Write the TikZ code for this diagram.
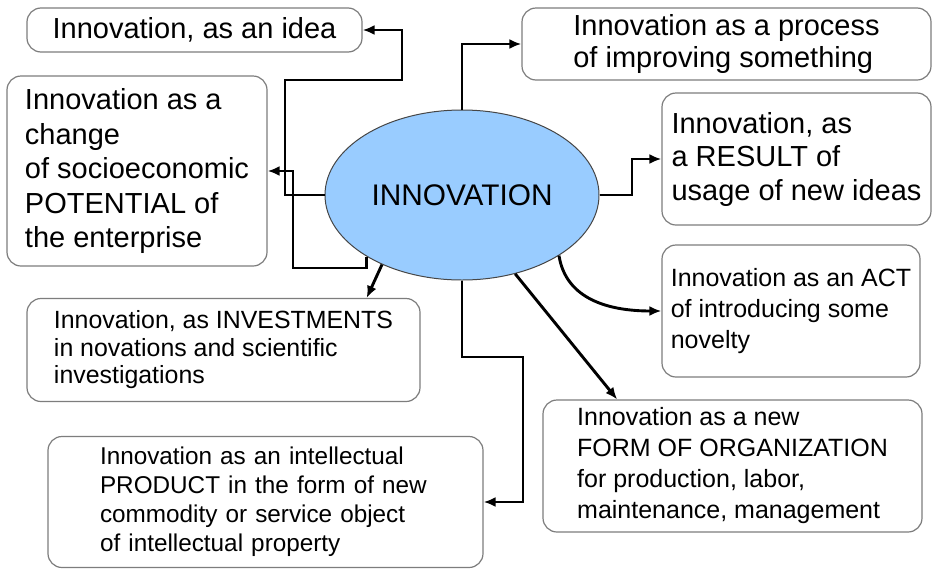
\documentclass[tikz,border=0pt]{standalone}
\usepackage{fontspec}
\setmainfont{Liberation Sans}
\usetikzlibrary{arrows.meta,shapes.geometric}
\definecolor{ellfill}{RGB}{153,204,255}
\definecolor{ellline}{RGB}{70,70,70}
\definecolor{boxline}{RGB}{125,125,125}
\tikzset{
  box/.style={draw=boxline, line width=1.2pt, rounded corners=14pt, align=left, inner sep=0pt, fill=white},
  big/.style={font=\fontsize{29}{34.5}\selectfont},
  mid/.style={font=\fontsize{25}{31}\selectfont},
  conn/.style={line width=2.9pt, -{Latex[length=12pt,width=10pt]}}
}
\begin{document}
\begin{tikzpicture}[x=1pt,y=-1pt]
\useasboundingbox (0,0) rectangle (933,568);
\fill[white] (0,0) rectangle (933,568);

\node[draw=ellline, fill=ellfill, line width=1pt, ellipse, minimum width=274pt, minimum height=170pt, inner sep=0pt, font=\fontsize{29.8}{34}\selectfont] (inno) at (462,195) {INNOVATION};

\node[box, big, minimum width=335pt, minimum height=44pt] (A) at (194.5,30) {Innovation, as an idea};
\node[box, big, minimum width=260pt, minimum height=190pt] (B) at (137,171) {Innovation as a\\change\\of socioeconomic\\POTENTIAL of\\the enterprise};
\node[box, font=\fontsize{29}{32}\selectfont, minimum width=409pt, minimum height=72pt] (C) at (726.5,44) {Innovation as a process\\of improving something};
\node[box, font=\fontsize{29}{33.5}\selectfont, minimum width=269pt, minimum height=132pt] (D) at (796.5,159) {Innovation, as\\a RESULT of\\usage of new ideas};
\node[box, mid, minimum width=258pt, minimum height=132pt] (E) at (791,311) {Innovation as an ACT\\of introducing some\\novelty};
\node[box, mid, minimum width=379pt, minimum height=132pt] (F) at (732.5,466) {Innovation as a new\\FORM OF ORGANIZATION\\for production, labor,\\maintenance, management};
\node[box, font=\fontsize{24.9}{27.5}\selectfont, minimum width=393pt, minimum height=103pt] (G) at (223.5,350) {Innovation, as INVESTMENTS\\in novations and scientific\\investigations};
\node[box, font=\fontsize{24.3}{29}\selectfont, text width=331pt, inner xsep=52pt, minimum height=131pt] (H) at (265.5,502) {Innovation as an intellectual\\PRODUCT in the form of new\\commodity or service object\\of intellectual property};

% connectors
\draw[conn] (inno.west) -- (285,195) -- (285,80) -- (402,80) |- (A.east);
\draw[conn] (inno.213) |- (293,268) |- (B.east);
\draw[conn] (inno.north) |- (C.west);
\draw[conn] (inno.east) -- (632,195) |- (D.west);
\draw[conn] (inno.-32) .. controls (566,300) and (610,311) .. (E.west);
\draw[conn] (inno.-56) -- (F.150);
\draw[conn] (inno.221) -- (G.20);
\draw[conn] (inno.south) |- (523,357) |- (H.east);
\end{tikzpicture}
\end{document}
